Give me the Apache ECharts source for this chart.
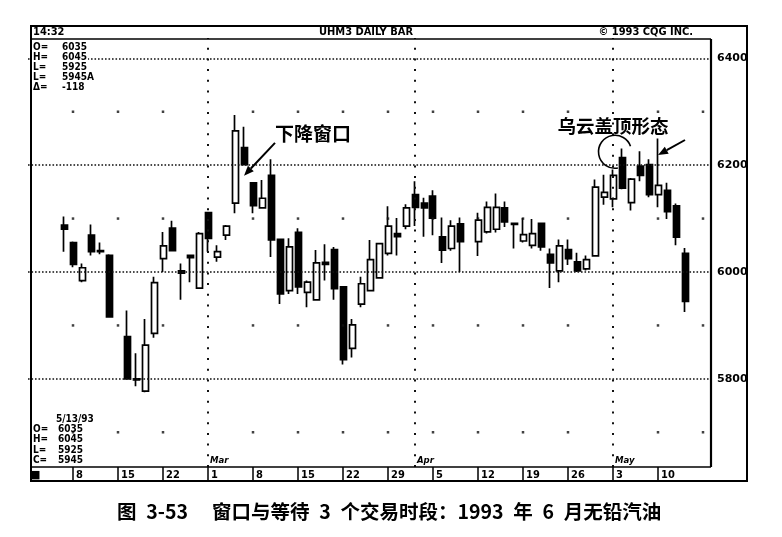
<!DOCTYPE html>
<html>
<head>
<meta charset="utf-8">
<script src="https://cdn.jsdelivr.net/npm/echarts@6/dist/echarts.min.js"></script>
<style>
  html, body { margin: 0; padding: 0; background: #fff; }
  #chart { width: 782px; height: 537px; }
</style>
</head>
<body>
<div id="chart"></div>
<script>
// June 1993 unleaded gas (UHM3), daily bars 2/5 - 5/13/93
const tradeDates = [
  '2/5', '2/8', '2/9', '2/10', '2/11', '2/12', '2/16', '2/17', '2/18', '2/19',
  '2/22', '2/23', '2/24', '2/25', '2/26', '3/1', '3/2', '3/3', '3/4', '3/5',
  '3/8', '3/9', '3/10', '3/11', '3/12', '3/15', '3/16', '3/17', '3/18', '3/19',
  '3/22', '3/23', '3/24', '3/25', '3/26', '3/29', '3/30', '3/31', '4/1', '4/2',
  '4/5', '4/6', '4/7', '4/8', '4/12', '4/13', '4/14', '4/15', '4/16', '4/19',
  '4/20', '4/21', '4/22', '4/23', '4/26', '4/27', '4/28', '4/29', '4/30', '5/3',
  '5/4', '5/5', '5/6', '5/7', '5/10', '5/11', '5/12', '5/13'
];
const opens = [
  6088, 6055, 5984, 6069, 6040, 6031, 5879, 5800, 5777, 5885,
  6025, 6082, 6002, 6031, 5970, 6111, 6028, 6069, 6129, 6233,
  6167, 6120, 6181, 6061, 5965, 6074, 5962, 5948, 6018, 6042,
  5972, 5857, 5940, 5965, 5989, 6035, 6072, 6086, 6145, 6129,
  6142, 6066, 6044, 6090, 6057, 6075, 6080, 6120, 6091, 6058,
  6050, 6091, 6033, 6002, 6042, 6019, 6006, 6030, 6140, 6137,
  6214, 6130, 6198, 6201, 6145, 6153, 6124, 6035
];
const highs = [
  6104, 6057, 6016, 6089, 6055, 6033, 5928, 5848, 5912, 5991,
  6075, 6096, 6016, 6031, 6075, 6111, 6050, 6088, 6294, 6272,
  6167, 6172, 6211, 6061, 6063, 6082, 5984, 6041, 6052, 6047,
  5972, 5912, 5991, 6060, 6053, 6123, 6101, 6127, 6170, 6139,
  6153, 6102, 6097, 6102, 6111, 6132, 6147, 6132, 6091, 6101,
  6099, 6091, 6044, 6061, 6061, 6036, 6031, 6173, 6182, 6192,
  6231, 6176, 6226, 6211, 6250, 6167, 6128, 6045
];
const lows = [
  6038, 6009, 5981, 6031, 6033, 5916, 5800, 5786, 5775, 5877,
  6000, 6040, 5948, 5981, 5970, 6038, 6019, 6060, 6110, 6201,
  6110, 6120, 6028, 5940, 5959, 5959, 5934, 5948, 5984, 5948,
  5827, 5840, 5934, 5965, 5989, 6031, 6031, 6080, 6086, 6066,
  6069, 6017, 6040, 6000, 6030, 6072, 6074, 6084, 6044, 6055,
  6044, 6040, 5970, 5981, 6013, 6000, 6003, 6030, 6126, 6121,
  6155, 6115, 6170, 6140, 6121, 6099, 6050, 5925
];
const closes = [
  6080, 6014, 6008, 6038, 6038, 5916, 5800, 5798, 5863, 5980,
  6049, 6040, 5998, 6027, 6072, 6063, 6038, 6086, 6264, 6201,
  6124, 6138, 6060, 5959, 6047, 5972, 5981, 6017, 6014, 5969,
  5836, 5901, 5978, 6023, 6053, 6086, 6066, 6120, 6121, 6120,
  6101, 6041, 6086, 6057, 6097, 6121, 6121, 6094, 6089, 6070,
  6072, 6047, 6017, 6049, 6025, 6002, 6023, 6159, 6149, 6181,
  6157, 6174, 6181, 6145, 6162, 6113, 6065, 5945
];
const gridLevels = [5800, 6000, 6200, 6400];
const dotLevels = [5700, 5900, 6100, 6300];
const monthLines = ['3/1', '4/1', '5/3'];
const monthNames = ['Mar', 'Apr', 'May'];
const weekLabels = ['2/1', '2/8', '2/15', '2/22', '3/1', '3/8', '3/15', '3/22', '3/29',
  '4/5', '4/12', '4/19', '4/26', '5/3', '5/10'];

// weekday calendar of the printout, 2/1 .. 5/18 (holidays stay as empty slots)
const cats = [];
const mondays = [];
for (let d = new Date(Date.UTC(1993, 1, 1)); d <= new Date(Date.UTC(1993, 4, 18)); d.setUTCDate(d.getUTCDate() + 1)) {
  const wd = d.getUTCDay();
  if (wd === 0 || wd === 6) continue;
  const key = (d.getUTCMonth() + 1) + '/' + d.getUTCDate();
  cats.push(key);
  if (wd === 1) mondays.push(key);
}

const candles = tradeDates.map((d, i) => [d, opens[i], closes[i], lows[i], highs[i]]);
const dots = [];
mondays.forEach(m => {
  if (m === '2/1' || monthLines.indexOf(m) >= 0) return;
  dotLevels.forEach(v => dots.push([m, v]));
});

const MONO = "'DejaVu Sans Condensed', 'DejaVu Sans', sans-serif";
const showLabel = (i, v) => weekLabels.indexOf(v) >= 0;
const showTick = (i, v) => v !== '2/1' && weekLabels.indexOf(v) >= 0;

const chart = echarts.init(document.getElementById('chart'));
chart.setOption({
  animation: false,
  backgroundColor: '#fff',
  grid: { left: 28, right: 70, top: 38, bottom: 70 },
  xAxis: {
    type: 'category',
    data: cats,
    boundaryGap: false,
    axisLine: { show: false },
    splitLine: { show: false },
    axisTick: {
      show: true, interval: showTick, length: 14, inside: false,
      lineStyle: { color: '#000', width: 1.5 }
    },
    axisLabel: {
      interval: showLabel,
      formatter: v => (v === '2/1' ? '■' : v.split('/')[1]),
      align: 'left', margin: 3, padding: [0, 0, 0, 3],
      fontSize: 11, fontWeight: 'bold', color: '#000', fontFamily: MONO
    }
  },
  yAxis: {
    type: 'value', min: 5635, max: 6438, position: 'right',
    axisLine: { show: false }, axisTick: { show: false },
    axisLabel: { show: false }, splitLine: { show: false }
  },
  series: [
    {
      type: 'candlestick',
      data: candles,
      encode: { x: 0, y: [1, 2, 3, 4] },
      barWidth: 6.5,
      itemStyle: {
        color: '#fff', color0: '#000',
        borderColor: '#000', borderColor0: '#000', borderWidth: 1.7
      },
      markLine: {
        silent: true, symbol: 'none', animation: false,
        data: gridLevels.map(v => ({
          yAxis: v,
          lineStyle: { type: [1.6, 1.9], width: 1.6, color: '#111' },
          label: {
            show: true, position: 'end', distance: 5, formatter: String(v),
            fontSize: 11, fontWeight: 'bold', color: '#000', fontFamily: "'DejaVu Sans', sans-serif"
          }
        })).concat(monthLines.map(c => ({
          xAxis: c,
          lineStyle: { type: [2, 8.7], width: 2, color: '#111' },
          label: { show: false }
        })))
      }
    },
    {
      type: 'scatter',
      data: dots,
      symbol: 'rect',
      symbolSize: 2.5,
      itemStyle: { color: '#111' },
      silent: true
    }
  ]
});

// frame, printout texts and the two hand annotations
const px = (c, v) => chart.convertToPixel({ gridIndex: 0 }, [c, v]);
const txt = (t, x, y, font, align) => ({
  type: 'text', z: 100,
  style: { text: t, x: x, y: y, font: font, fill: '#000', textAlign: align || 'left', textVerticalAlign: 'middle' }
});
const ln = (x1, y1, x2, y2, w) => ({
  type: 'line', z: 90, shape: { x1, y1, x2, y2 }, style: { stroke: '#000', lineWidth: w }
});
function arrow(x1, y1, x2, y2) {
  const a = Math.atan2(y2 - y1, x2 - x1), L = 10, W = 4;
  const bx = x2 - L * Math.cos(a), by = y2 - L * Math.sin(a);
  return [
    ln(x1, y1, bx, by, 2),
    { type: 'polygon', z: 90, shape: { points: [[x2, y2],
      [bx + W * Math.sin(a), by - W * Math.cos(a)], [bx - W * Math.sin(a), by + W * Math.cos(a)]] },
      style: { fill: '#000' } }
  ];
}

const small = 'bold 10px ' + MONO;
const head = 'bold 11px ' + MONO;
const g = [
  { type: 'rect', z: 90, shape: { x: 31, y: 26, width: 716, height: 455 }, style: { fill: 'none', stroke: '#000', lineWidth: 2 } },
  ln(31, 39, 711, 39, 1.5),
  ln(711, 39, 711, 467, 2.2),
  ln(31, 467, 711, 467, 1.6),
  // quote box in the top-left hides the start of the 6400 line
  { type: 'rect', z: 95, shape: { x: 32, y: 41, width: 56, height: 52 }, style: { fill: '#fff' } },
  txt('14:32', 33, 32.5, head),
  txt('UHM3 DAILY BAR', 366, 32.5, head, 'center'),
  txt('© 1993 CQG INC.', 693, 32.5, head, 'right')
];
const topRows = [['O=', '6035'], ['H=', '6045'], ['L=', '5925'], ['L=', '5945A'], ['Δ=', '-118']];
topRows.forEach((r, i) => { g.push(txt(r[0], 33, 47.5 + i * 10, small)); g.push(txt(r[1], 62, 47.5 + i * 10, small)); });
g.push(txt('5/13/93', 56, 419, small));
const botRows = [['O=', '6035'], ['H=', '6045'], ['L=', '5925'], ['C=', '5945']];
botRows.forEach((r, i) => { g.push(txt(r[0], 33, 429.5 + i * 10.3, small)); g.push(txt(r[1], 58, 429.5 + i * 10.3, small)); });
monthLines.forEach((c, i) => {
  const p = px(c, 5635);
  g.push({ type: 'text', z: 100, style: { text: monthNames[i], x: p[0] + 2, y: 461, font: 'bold italic 9.5px ' + MONO, fill: '#000', textVerticalAlign: 'middle' } });
});

// 下降窗口 (falling window)
const gapTip = px('3/5', 6180);
g.push(...arrow(gapTip[0] + 31, gapTip[1] - 33, gapTip[0], gapTip[1]));
g.push({ type: 'text', z: 100, style: { text: '下降窗口', x: gapTip[0] + 31, y: gapTip[1] - 42,
  font: "bold 19px 'Noto Sans CJK SC'", fill: '#000', textVerticalAlign: 'middle' } });

// 乌云盖顶形态 (dark cloud cover)
const ring = px('5/3', 6225);
g.push({ type: 'arc', z: 90, shape: { cx: ring[0] + 2, cy: ring[1], r: 16.5,
  startAngle: 80 * Math.PI / 180, endAngle: 340 * Math.PI / 180, clockwise: true },
  style: { stroke: '#000', lineWidth: 1.6, fill: 'none' } });
g.push({ type: 'text', z: 100, style: { text: '乌云盖顶形态', x: ring[0] + 0, y: ring[1] - 26,
  font: "bold 18.5px 'Noto Sans CJK SC'", fill: '#000', textAlign: 'center', textVerticalAlign: 'middle' } });
const cloudTip = px('5/10', 6219);
g.push(...arrow(cloudTip[0] + 27, cloudTip[1] - 15, cloudTip[0], cloudTip[1]));

// caption under the figure
const capFont = "bold 19.5px 'Noto Sans CJK SC'";
g.push({ type: 'text', z: 100, style: { text: '图\u20023-53', x: 117, y: 512, font: capFont, fill: '#000', textVerticalAlign: 'middle' } });
g.push({ type: 'text', z: 100, style: { text: '窗口与等待\u20023\u2002个交易时段：1993\u2002年\u20026\u2002月无铅汽油',
  x: 212, y: 512, font: capFont, fill: '#000', textVerticalAlign: 'middle' } });

chart.setOption({ graphic: g });
</script>
</body>
</html>
